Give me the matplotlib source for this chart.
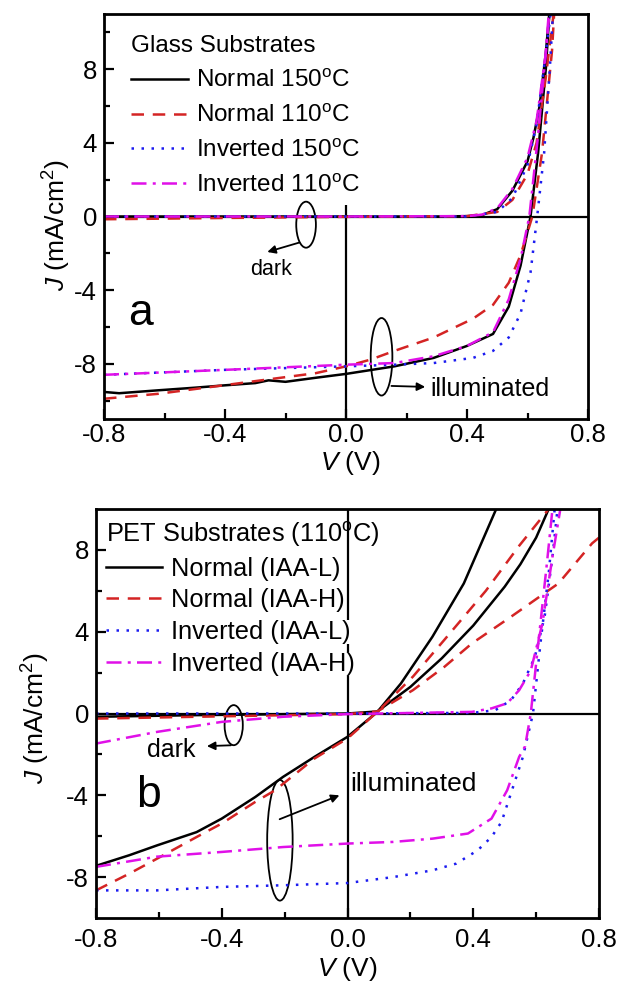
import matplotlib
matplotlib.use("Agg")
import matplotlib.pyplot as plt
from matplotlib.patches import Ellipse

plt.rcParams['font.family'] = ['Liberation Sans', 'DejaVu Sans']
plt.rcParams['mathtext.fontset'] = 'custom'
plt.rcParams['mathtext.rm'] = 'Liberation Sans'
plt.rcParams['mathtext.it'] = 'Liberation Sans:italic'

# ---------------- Panel a: glass substrates ----------------
a_labels = ['Normal 150$^{\\mathrm{o}}$C', 'Normal 110$^{\\mathrm{o}}$C',
            'Inverted 150$^{\\mathrm{o}}$C', 'Inverted 110$^{\\mathrm{o}}$C']

# illuminated
a_n150_V = [-0.8, -0.75, -0.62, -0.5, -0.4, -0.3, -0.256, -0.2, -0.1, 0.0, 0.16, 0.29, 0.4, 0.486, 0.538, 0.577, 0.61, 0.635, 0.661, 0.672]
a_n150_J = [-9.53, -9.6, -9.44, -9.3, -9.17, -9.05, -8.9, -8.98, -8.76, -8.55, -8.14, -7.68, -7.03, -6.38, -4.9, -2.67, 0.0, 3.45, 8.1, 11.0]
a_n110_V = [-0.8, -0.62, -0.4, -0.23, -0.1, 0.0, 0.082, 0.16, 0.29, 0.42, 0.486, 0.538, 0.577, 0.616, 0.648, 0.681, 0.688]
a_n110_J = [-9.9, -9.63, -9.16, -8.79, -8.51, -8.14, -7.77, -7.3, -6.57, -5.55, -4.8, -3.6, -2.1, 0.0, 3.45, 9.0, 11.0]
a_i150_V = [-0.8, -0.4, 0.0, 0.16, 0.29, 0.42, 0.486, 0.538, 0.577, 0.61, 0.632, 0.655, 0.674, 0.684]
a_i150_J = [-8.6, -8.33, -8.14, -8.05, -7.96, -7.68, -7.3, -6.57, -5.27, -3.04, 0.0, 3.45, 8.1, 11.0]
a_i110_V = [-0.8, -0.4, 0.0, 0.16, 0.29, 0.4, 0.486, 0.538, 0.577, 0.606, 0.635, 0.661, 0.67]
a_i110_J = [-8.6, -8.33, -8.05, -7.96, -7.59, -7.03, -6.29, -4.5, -2.3, 0.0, 4.4, 9.0, 11.0]
# dark
a_n150d_V = [-0.8, 0.0, 0.3, 0.4, 0.45, 0.5, 0.55, 0.6, 0.62, 0.64, 0.66, 0.675]
a_n150d_J = [0.0, 0.0, 0.0, 0.02, 0.08, 0.4, 1.4, 3.0, 4.3, 6.0, 8.8, 11.5]
a_n110d_V = [-0.8, -0.4, 0.0, 0.4, 0.5, 0.55, 0.6, 0.63, 0.66, 0.69]
a_n110d_J = [-0.15, -0.08, -0.02, 0.02, 0.25, 0.9, 2.3, 4.0, 7.5, 11.5]
a_i150d_V = [-0.8, 0.0, 0.4, 0.5, 0.55, 0.6, 0.63, 0.66, 0.68]
a_i150d_J = [0.0, 0.0, 0.0, 0.25, 1.0, 2.8, 5.0, 8.8, 11.5]
a_i110d_V = [-0.8, 0.0, 0.4, 0.45, 0.5, 0.55, 0.6, 0.63, 0.66, 0.675]
a_i110d_J = [0.0, 0.0, 0.02, 0.1, 0.45, 1.5, 3.2, 5.2, 8.8, 11.5]

# ---------------- Panel b: PET substrates ----------------
b_labels = ['Normal (IAA-L)', 'Normal (IAA-H)', 'Inverted (IAA-L)', 'Inverted (IAA-H)']

b_nL_V = [-0.8, -0.694, -0.606, -0.48, -0.4, -0.293, -0.205, -0.105, 0.0, 0.095, 0.17, 0.27, 0.37, 0.473]
b_nL_J = [-7.45, -6.93, -6.45, -5.8, -5.14, -4.08, -3.1, -2.12, -1.14, 0.08, 1.47, 3.75, 6.36, 10.0]
b_nH_V = [-0.8, -0.694, -0.606, -0.48, -0.4, -0.293, -0.23, -0.105, 0.0, 0.095, 0.208, 0.308, 0.44, 0.546, 0.64]
b_nH_J = [-8.65, -7.83, -7.1, -6.04, -5.38, -4.32, -3.75, -2.2, -1.22, 0.08, 1.8, 3.6, 6.0, 8.2, 10.0]
b_iL_V = [-0.8, -0.606, -0.4, -0.205, 0.0, 0.145, 0.27, 0.346, 0.414, 0.458, 0.49, 0.52, 0.558, 0.59, 0.615, 0.64, 0.659]
b_iL_J = [-8.65, -8.65, -8.48, -8.4, -8.29, -8.0, -7.67, -7.34, -6.69, -6.04, -5.3, -3.9, -2.12, 0.0, 3.6, 6.85, 10.0]
b_iH_V = [-0.8, -0.606, -0.4, -0.205, 0.0, 0.145, 0.27, 0.383, 0.458, 0.508, 0.546, 0.565, 0.583, 0.608, 0.634, 0.652]
b_iH_J = [-7.5, -7.0, -6.77, -6.53, -6.36, -6.28, -6.12, -5.87, -5.14, -3.75, -2.12, -1.6, 0.0, 3.6, 7.3, 10.0]
# dark
b_nLd_V = [-0.8, -0.48, 0.0, 0.095, 0.2, 0.3, 0.4, 0.5, 0.55, 0.6, 0.64]
b_nLd_J = [-0.16, -0.08, 0.0, 0.1, 1.3, 2.7, 4.3, 6.2, 7.3, 8.6, 10.0]
b_nHd_V = [-0.8, -0.48, 0.0, 0.095, 0.208, 0.308, 0.396, 0.52, 0.671, 0.778, 0.8]
b_nHd_J = [-0.25, -0.16, -0.03, 0.1, 1.14, 2.28, 3.43, 4.73, 6.36, 8.32, 8.6]
b_iLd_V = [-0.8, 0.0, 0.396, 0.47, 0.52, 0.558, 0.596, 0.627, 0.652, 0.668]
b_iLd_J = [0.0, 0.0, 0.03, 0.16, 0.65, 1.47, 2.77, 4.73, 7.67, 10.0]
b_iHd_V = [-0.8, -0.606, -0.4, -0.205, 0.0, 0.396, 0.458, 0.508, 0.546, 0.583, 0.62, 0.652, 0.677]
b_iHd_J = [-1.47, -0.9, -0.41, -0.16, -0.03, 0.08, 0.25, 0.5, 1.14, 2.1, 4.4, 7.67, 10.0]

colors = ['black', '#d42424', '#1c1cf0', '#e010e8']
styles = ['-', (0, (5, 3.5)), (0, (1, 3)), (0, (6, 2.5, 1.2, 2.5))]
LW = 1.8
TFS = 18.5   # tick labels
LFS = 19     # axis labels

fig = plt.figure(figsize=(6.18, 9.83), dpi=100)
axa = fig.add_axes([104/618, 1-419/983, (588-104)/618, (419-14)/983])
axb = fig.add_axes([96/618, 1-918/983, (599-96)/618, (918-509)/983])


def style_axes(ax, ylim, yminor, xpad):
    ax.set_xlim(-0.8, 0.8)
    ax.set_ylim(*ylim)
    ax.set_xticks([-0.8, -0.4, 0.0, 0.4, 0.8])
    ax.set_xticklabels(['-0.8', '-0.4', '0.0', '0.4', '0.8'])
    ax.set_xticks([-0.6, -0.2, 0.2, 0.6], minor=True)
    ax.set_yticks([-8, -4, 0, 4, 8])
    ax.set_yticklabels(['-8', '-4', '0', '4', '8'])
    ax.set_yticks(yminor, minor=True)
    ax.tick_params(which='both', direction='in', top=False, right=False, width=1.6, labelsize=TFS)
    ax.tick_params(which='major', length=7)
    ax.tick_params(which='minor', length=4)
    ax.tick_params(axis='x', which='major', pad=xpad)
    ax.tick_params(axis='y', which='major', pad=5)
    for s in ax.spines.values():
        s.set_linewidth(2.0)
    ax.set_xlabel('$V$ (V)', fontsize=LFS)
    ax.set_ylabel('$J$ (mA/cm$^2$)', fontsize=LFS)


# ---- panel a
a_ill = [(a_n150_V, a_n150_J), (a_n110_V, a_n110_J), (a_i150_V, a_i150_J), (a_i110_V, a_i110_J)]
a_dark = [(a_n150d_V, a_n150d_J), (a_n110d_V, a_n110d_J), (a_i150d_V, a_i150d_J), (a_i110d_V, a_i110d_J)]
handles = []
for (V, J), (Vd, Jd), c, ls, lab in zip(a_ill, a_dark, colors, styles, a_labels):
    h, = axa.plot(V, J, color=c, ls=ls, lw=LW, label=lab)
    axa.plot(Vd, Jd, color=c, ls=ls, lw=LW)
    handles.append(h)
axa.axhline(0, color='black', lw=1.6, zorder=1)
axa.vlines(0, -11, 0.6, color='black', lw=1.6, zorder=1)
style_axes(axa, (-11, 11), [-10, -6, -2, 2, 6, 10], 3)
axa.xaxis.set_label_coords(0.508, -0.075)
axa.yaxis.set_label_coords(-0.064, 0.48)
axa.legend(handles=handles, title='Glass Substrates', loc='upper left',
           bbox_to_anchor=(0.055, 0.947), frameon=False, fontsize=17.5, title_fontsize=17.5,
           alignment='left', handlelength=2.35, handletextpad=0.33, labelspacing=0.52,
           borderpad=0, borderaxespad=0)
axa.add_patch(Ellipse((-0.132, -0.445), 0.065, 2.5, fill=False, lw=1.3, color='black'))
axa.annotate('', xy=(-0.269, -1.97), xytext=(-0.145, -1.37),
             arrowprops=dict(arrowstyle='-|>', color='black', lw=1.3, mutation_scale=12))
axa.text(-0.249, -2.86, 'dark', ha='center', va='center', fontsize=15.5)
axa.add_patch(Ellipse((0.1175, -7.62), 0.0716, 4.21, fill=False, lw=1.3, color='black'))
axa.annotate('', xy=(0.271, -9.26), xytext=(0.141, -9.2),
             arrowprops=dict(arrowstyle='-|>', color='black', lw=1.3, mutation_scale=12))
axa.text(0.28, -9.35, 'illuminated', ha='left', va='center', fontsize=18)
axa.text(-0.679, -5.27, 'a', ha='center', va='center', fontsize=32)

# ---- panel b
b_ill = [(b_nL_V, b_nL_J), (b_nH_V, b_nH_J), (b_iL_V, b_iL_J), (b_iH_V, b_iH_J)]
b_dark = [(b_nLd_V, b_nLd_J), (b_nHd_V, b_nHd_J), (b_iLd_V, b_iLd_J), (b_iHd_V, b_iHd_J)]
handles = []
for (V, J), (Vd, Jd), c, ls, lab in zip(b_ill, b_dark, colors, styles, b_labels):
    h, = axb.plot(V, J, color=c, ls=ls, lw=LW, label=lab)
    axb.plot(Vd, Jd, color=c, ls=ls, lw=LW)
    handles.append(h)
axb.axhline(0, color='black', lw=1.6, zorder=1)
axb.axvline(0, color='black', lw=1.6, zorder=1)
style_axes(axb, (-10, 10), [-6, -2, 2, 6], 7)
axb.xaxis.set_label_coords(0.5, -0.09)
axb.yaxis.set_label_coords(-0.087, 0.49)
legb = axb.legend(handles=handles, title='PET Substrates (110$^{\\mathrm{o}}$C)', loc='upper left',
                  bbox_to_anchor=(0.02, 0.973), frameon=False, fontsize=18.3, title_fontsize=18.3,
                  alignment='left', handlelength=2.2, handletextpad=0.35, labelspacing=0.3,
                  borderpad=0, borderaxespad=0)
for t in legb.get_texts()[2:]:
    t.set_bbox(dict(facecolor='white', edgecolor='none', pad=0))
axb.add_patch(Ellipse((-0.362, -0.57), 0.058, 1.96, fill=False, lw=1.3, color='black'))
axb.annotate('', xy=(-0.456, -1.6), xytext=(-0.362, -1.55),
             arrowprops=dict(arrowstyle='-|>', color='black', lw=1.3, mutation_scale=12))
axb.text(-0.562, -1.79, 'dark', ha='center', va='center', fontsize=18)
axb.add_patch(Ellipse((-0.215, -6.2), 0.081, 5.9, fill=False, lw=1.3, color='black'))
axb.annotate('', xy=(-0.0175, -3.95), xytext=(-0.224, -5.22),
             arrowprops=dict(arrowstyle='-|>', color='black', lw=1.3, mutation_scale=12))
axb.text(0.0075, -3.43, 'illuminated', ha='left', va='center', fontsize=19)
axb.text(-0.633, -4.0, 'b', ha='center', va='center', fontsize=32)

fig.savefig('out.png', dpi=100)
